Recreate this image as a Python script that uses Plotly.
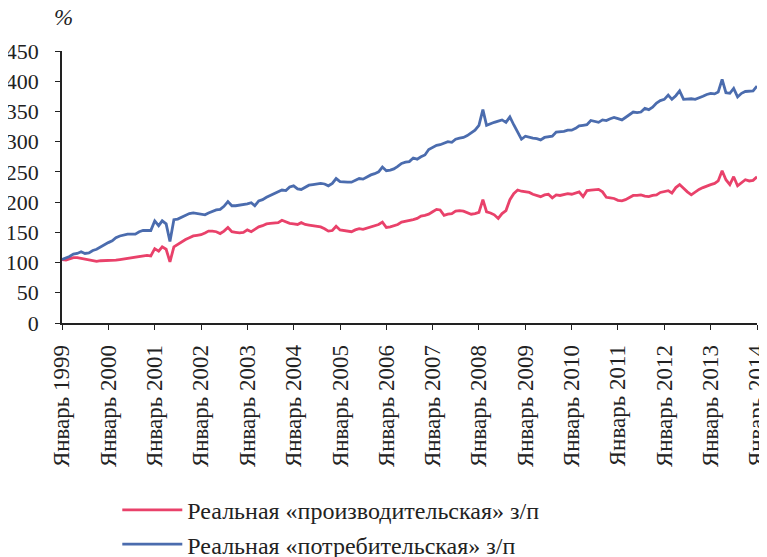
import plotly.graph_objects as go
import pandas as pd

years = list(range(1999, 2015))
tick_labels = ["Январь %d" % y for y in years]

# Monthly values, Jan 1999 .. Jan 2014
producer = [
    105, 104, 106, 108, 108, 107, 105, 104, 103, 102, 103, 103,   # 1999
    103, 104, 104, 105, 106, 107, 108, 109, 110, 112, 112, 111,   # 2000
    123, 119, 126, 122, 101, 126, 130, 135, 138, 141, 144, 145,   # 2001
    146, 149, 152, 152, 151, 148, 152, 158, 151, 150, 149, 150,   # 2002
    154, 151, 155, 159, 161, 164, 165, 165, 166, 170, 167, 165,   # 2003
    164, 163, 166, 163, 162, 161, 160, 159, 156, 152, 153, 160,   # 2004
    154, 153, 152, 151, 154, 156, 155, 157, 158, 160, 163, 167,   # 2005
    158, 159, 161, 163, 167, 168, 170, 171, 173, 177, 178, 180,   # 2006
    184, 188, 187, 178, 180, 181, 185, 186, 185, 183, 180, 181,   # 2007
    183, 204, 184, 182, 179, 173, 181, 186, 204, 214, 220, 218,   # 2008
    217, 216, 213, 211, 209, 212, 213, 207, 212, 211, 212, 214,   # 2009
    213, 215, 217, 209, 219, 220, 220, 221, 217, 208, 207, 206,   # 2010
    203, 202, 204, 207, 211, 211, 212, 210, 209, 211, 212, 216,   # 2011
    217, 219, 215, 224, 229, 222, 217, 212, 217, 221, 224, 227,   # 2012
    229, 231, 235, 252, 237, 229, 242, 227, 232, 237, 235, 236,   # 2013
    242,                                                          # 2014
]
consumer = [
    105, 107, 110, 114, 115, 118, 115, 116, 120, 122, 126, 129,   # 1999
    133, 136, 141, 144, 146, 147, 147, 147, 151, 153, 153, 153,   # 2000
    169, 161, 169, 164, 135, 171, 172, 175, 178, 181, 182, 181,   # 2001
    180, 179, 182, 185, 187, 188, 193, 201, 194, 194, 195, 195,   # 2002
    197, 199, 194, 202, 204, 208, 211, 214, 217, 220, 219, 225,   # 2003
    227, 222, 221, 225, 228, 229, 230, 231, 230, 227, 231, 239,   # 2004
    234, 233, 233, 233, 236, 239, 238, 242, 245, 247, 250, 258,   # 2005
    252, 253, 255, 259, 264, 266, 267, 273, 271, 275, 278, 287,   # 2006
    291, 294, 295, 298, 300, 299, 304, 306, 307, 310, 314, 319,   # 2007
    327, 353, 327, 330, 332, 334, 336, 332, 341, 328, 315, 304,   # 2008
    309, 307, 306, 305, 303, 307, 308, 309, 316, 316, 317, 319,   # 2009
    319, 322, 326, 327, 328, 335, 333, 332, 336, 335, 338, 340,   # 2010
    338, 336, 340, 345, 349, 348, 349, 355, 353, 357, 364, 368,   # 2011
    370, 377, 370, 376, 384, 370, 371, 371, 370, 372, 375, 378,   # 2012
    380, 379, 382, 403, 381, 380, 388, 374, 380, 383, 383, 384,   # 2013
    392,                                                          # 2014
]
y_ticks = list(range(0, 451, 50))

dates = pd.date_range("1999-01-01", periods=len(producer), freq="MS")
tick_dates = [pd.Timestamp("%d-01-01" % y) for y in years]

RED = "#E9416A"
BLUE = "#4B6CAE"
FONT = "Times New Roman"
TXT = "#222222"

fig = go.Figure()
fig.add_trace(go.Scatter(x=dates, y=producer, mode="lines",
                         name="Реальная «производительская» з/п",
                         line=dict(color=RED, width=2.8)))
fig.add_trace(go.Scatter(x=dates, y=consumer, mode="lines",
                         name="Реальная «потребительская» з/п",
                         line=dict(color=BLUE, width=2.8)))

# page body has an 8px margin, so the figure is 8px smaller and offsets shrink
fig.update_layout(
    width=759, height=549,
    margin=dict(l=54, r=10, t=43, b=234, autoexpand=False),
    paper_bgcolor="white", plot_bgcolor="white",
    font=dict(family=FONT, size=20, color=TXT),
    showlegend=True,
    legend=dict(xref="container", yref="container",
                x=0.144, y=0.126, xanchor="left", yanchor="top",
                font=dict(family=FONT, size=24, color=TXT),
                tracegroupgap=0, itemwidth=60),
    xaxis=dict(
        range=[tick_dates[0], tick_dates[-1]],
        tickmode="array", tickvals=tick_dates, ticktext=tick_labels,
        tickangle=-90, ticks="outside", ticklen=5, tickwidth=1.2,
        tickcolor=TXT, showline=True, linecolor=TXT, linewidth=1.5,
        showgrid=False, zeroline=False, automargin=False,
        tickfont=dict(family=FONT, size=23, color=TXT),
        ticklabelstandoff=6, ticklabeloverflow="allow",
    ),
    yaxis=dict(
        range=[0, 450], tickmode="array", tickvals=y_ticks,
        ticks="outside", ticklen=5, tickwidth=1.2, tickcolor=TXT,
        showline=True, linecolor=TXT, linewidth=1.5,
        showgrid=False, zeroline=False, automargin=False,
        tickfont=dict(family=FONT, size=22, color=TXT),
        ticklabelstandoff=12,
    ),
)
fig.add_annotation(xref="paper", yref="paper", x=-0.015, y=1.125,
                   xanchor="left", yanchor="middle", showarrow=False,
                   text="<i>%</i>", font=dict(family=FONT, size=23, color=TXT))

fig.write_html("out.html")
